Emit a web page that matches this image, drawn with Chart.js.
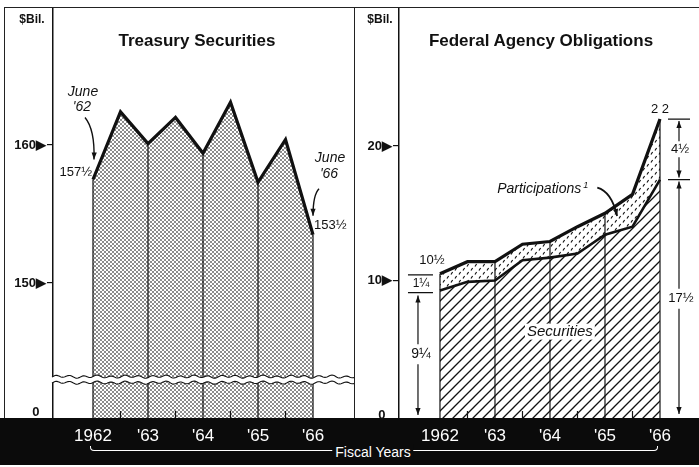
<!DOCTYPE html>
<html>
<head>
<meta charset="utf-8">
<script src="https://cdn.jsdelivr.net/npm/chart.js@4.4.0/dist/chart.umd.min.js"></script>
<style>
  body { margin: 0; background: #fff; font-family: 'Liberation Sans', Arial, sans-serif; }
  #page { position: relative; width: 699px; height: 467px; overflow: hidden; }
  #band { position: absolute; left: 0; top: 418px; width: 699px; height: 47px; background: #0b0b0b; }
  canvas { position: absolute; top: 7px; }
  #left { left: 4px; }
  #right { left: 354px; }
  .frame { position: absolute; background: #222; }
  .lbl { position: absolute; transform: translate(-50%, -50%); white-space: nowrap; color: #111; }
  .title { font-weight: bold; font-size: 17px; }
  .unit { font-weight: bold; font-size: 12px; }
  .bracket { position: absolute; left: 90px; top: 446px; width: 566px; height: 4px;
    border: 1.5px solid #fff; border-top: none; border-radius: 0 0 4px 4px; }
  .fy { color: #fff; font-size: 14px; background: #0b0b0b; padding: 0 3px; }
</style>
</head>
<body>
<div id="page">
  <div id="band"></div>
  <div class="bracket"></div>
  <div class="lbl fy" style="left:373px;top:452px">Fiscal Years</div>
  <canvas id="left" width="350" height="458"></canvas>
  <canvas id="right" width="345" height="458"></canvas>
  <div class="frame" style="left:4px;top:7px;width:695px;height:1px"></div>
  <div class="frame" style="left:4px;top:7px;width:1px;height:411px"></div>
  <div class="frame" style="left:354px;top:7px;width:1px;height:411px"></div>
  <div class="lbl unit" style="left:32px;top:19px">$Bil.</div>
  <div class="lbl unit" style="left:380px;top:19px">$Bil.</div>
  <div class="lbl title" style="left:197px;top:41px">Treasury Securities</div>
  <div class="lbl title" style="left:541px;top:41px">Federal Agency Obligations</div>
</div>
<script>
// half-year points, June '62 to June '66
const years = [1962, 1962.5, 1963, 1963.5, 1964, 1964.5, 1965, 1965.5, 1966];
const yearTicks = [1962, 1963, 1964, 1965, 1966];
const yearLabels = ['1962', "'63", "'64", "'65", "'66"];

const treasury = [157.5, 162.4, 160.1, 162.0, 159.4, 163.1, 157.3, 160.4, 153.5];
const agencyTotal = [10.5, 11.4, 11.4, 12.7, 12.9, 14.0, 15.0, 16.4, 22];
const agencySecurities = [9.25, 9.9, 10.0, 11.5, 11.7, 12.0, 13.4, 14.0, 17.5];

const treasuryTicks = [140.6, 150, 160];
const treasuryTickLabels = ['0\u2002', '150\u25B6', '160\u25B6'];
const agencyTicks = [0, 10, 20];
const agencyTickLabels = ['0\u2002', '10\u25B6', '20\u25B6'];

const FONT = "'Liberation Sans', Arial, sans-serif";
const INK = '#111';

function makePattern(ctx, w, h, draw) {
  const c = document.createElement('canvas');
  c.width = w; c.height = h;
  const g = c.getContext('2d');
  g.fillStyle = '#fff';
  g.fillRect(0, 0, w, h);
  draw(g);
  return ctx.createPattern(c, 'repeat');
}

function text(ctx, str, x, y, font, align) {
  ctx.font = font;
  ctx.textAlign = align || 'center';
  ctx.textBaseline = 'middle';
  ctx.fillText(str, x, y);
}

function arrow(ctx, x1, y1, x2, y2, cx, cy) {
  ctx.beginPath();
  ctx.moveTo(x1, y1);
  if (cx !== undefined) ctx.quadraticCurveTo(cx, cy, x2, y2);
  else ctx.lineTo(x2, y2);
  ctx.stroke();
  const fx = cx !== undefined ? cx : x1, fy = cy !== undefined ? cy : y1;
  const a = Math.atan2(y2 - fy, x2 - fx);
  ctx.beginPath();
  ctx.moveTo(x2, y2);
  ctx.lineTo(x2 - 7 * Math.cos(a) + 2.6 * Math.sin(a), y2 - 7 * Math.sin(a) - 2.6 * Math.cos(a));
  ctx.lineTo(x2 - 7 * Math.cos(a) - 2.6 * Math.sin(a), y2 - 7 * Math.sin(a) + 2.6 * Math.cos(a));
  ctx.closePath();
  ctx.fill();
}

// year dividers, half-year ticks and the axis break
const panelDecor = {
  id: 'panelDecor',
  afterDatasetsDraw(chart, args, opts) {
    const ctx = chart.ctx, area = chart.chartArea;
    const pts = chart.getDatasetMeta(opts.topIndex).data;
    ctx.save();
    ctx.strokeStyle = INK;
    ctx.lineWidth = 1.2;
    years.forEach((yr, i) => {
      const p = pts[i];
      ctx.beginPath();
      if (Number.isInteger(yr)) { ctx.moveTo(p.x, p.y); ctx.lineTo(p.x, area.bottom); }
      else { ctx.moveTo(p.x, area.bottom); ctx.lineTo(p.x, area.bottom - 7); }
      ctx.stroke();
    });
    if (opts.breakAt !== undefined) {
      const yc = chart.scales.y.getPixelForValue(opts.breakAt);
      const wave = (x, off) => yc + off + 1.1 * Math.sin(x / 2.2) + 0.5 * Math.sin(x / 5.3);
      ctx.beginPath();
      for (let x = area.left - 1; x <= area.right; x++) ctx.lineTo(x, wave(x, -3));
      for (let x = area.right; x >= area.left - 1; x--) ctx.lineTo(x, wave(x, 3));
      ctx.closePath();
      ctx.fillStyle = '#fff';
      ctx.fill();
      ctx.lineWidth = 1.1;
      [-3, 3].forEach(off => {
        ctx.beginPath();
        for (let x = area.left - 1; x <= area.right; x++) ctx.lineTo(x, wave(x, off));
        ctx.stroke();
      });
    }
    ctx.restore();
  }
};

const leftNotes = {
  id: 'leftNotes',
  afterDraw(chart) {
    const ctx = chart.ctx;
    const pts = chart.getDatasetMeta(0).data;
    const a = pts[0], b = pts[pts.length - 1];
    const ital = 'italic 14px ' + FONT, num = '13px ' + FONT;
    ctx.save();
    ctx.fillStyle = INK; ctx.strokeStyle = INK; ctx.lineWidth = 1.4;
    text(ctx, 'June', a.x - 10, a.y - 87, ital);
    text(ctx, "'62", a.x - 11, a.y - 72, ital);
    arrow(ctx, a.x - 8, a.y - 62, a.x + 1, a.y - 20, a.x + 2, a.y - 50);
    text(ctx, '157\u00BD', a.x - 1, a.y - 7, num, 'right');
    text(ctx, 'June', b.x + 17, b.y - 77, ital);
    text(ctx, "'66", b.x + 16, b.y - 61, ital);
    arrow(ctx, b.x + 6, b.y - 46, b.x, b.y - 19, b.x, b.y - 40);
    text(ctx, '153\u00BD', b.x + 1, b.y - 9, num, 'left');
    ctx.restore();
  }
};

const rightNotes = {
  id: 'rightNotes',
  afterDraw(chart) {
    const ctx = chart.ctx, area = chart.chartArea;
    const xs = chart.scales.x, ys = chart.scales.y;
    const sec = chart.getDatasetMeta(0).data, tot = chart.getDatasetMeta(1).data;
    const s0 = sec[0], t0 = tot[0], sN = sec[sec.length - 1], tN = tot[tot.length - 1];
    const num = '13px ' + FONT;
    ctx.save();
    ctx.fillStyle = INK; ctx.strokeStyle = INK; ctx.lineWidth = 1.2;

    // right-hand dimensions
    text(ctx, '2 2', tN.x, tN.y - 10, num);
    ctx.beginPath();
    ctx.moveTo(tN.x + 8, tN.y); ctx.lineTo(tN.x + 30, tN.y);
    ctx.moveTo(tN.x + 8, sN.y); ctx.lineTo(tN.x + 30, sN.y);
    ctx.stroke();
    const ax = tN.x + 19;
    const m1 = (tN.y + sN.y) / 2;
    text(ctx, '4\u00BD', ax + 1, m1, num);
    arrow(ctx, ax, m1 - 8, ax, tN.y + 2);
    arrow(ctx, ax, m1 + 8, ax, sN.y - 2);
    const m2 = (sN.y + area.bottom) / 2;
    text(ctx, '17\u00BD', ax + 2, m2, num);
    arrow(ctx, ax, m2 - 10, ax, sN.y + 2);
    arrow(ctx, ax, m2 + 10, ax, area.bottom - 4);

    // left-hand dimensions
    text(ctx, '10\u00BD', t0.x - 8, t0.y - 13, num);
    ctx.beginPath();
    ctx.moveTo(t0.x - 32, t0.y + 1); ctx.lineTo(t0.x - 7, t0.y + 1);
    ctx.moveTo(t0.x - 32, s0.y + 2); ctx.lineTo(t0.x - 7, s0.y + 2);
    ctx.stroke();
    text(ctx, '1\u00BC', t0.x - 19, (t0.y + s0.y) / 2 + 1.5, '12px ' + FONT);
    const m3 = (s0.y + area.bottom) / 2;
    text(ctx, '9\u00BC', t0.x - 19, m3, '14px ' + FONT);
    arrow(ctx, t0.x - 22, m3 - 10, t0.x - 22, s0.y + 5);
    arrow(ctx, t0.x - 22, m3 + 10, t0.x - 22, area.bottom - 3);

    // series labels
    ctx.font = 'italic 14px ' + FONT;
    ctx.textAlign = 'left'; ctx.textBaseline = 'middle';
    const px = xs.getPixelForValue(1963.04), py = ys.getPixelForValue(16.8);
    ctx.fillText('Participations', px, py);
    const w = ctx.measureText('Participations').width;
    ctx.font = 'italic 9px ' + FONT;
    ctx.fillText('1', px + w + 2, py - 4);
    ctx.lineWidth = 1.8;
    arrow(ctx, xs.getPixelForValue(1964.86), ys.getPixelForValue(16.9),
      xs.getPixelForValue(1965.22), ys.getPixelForValue(14.8),
      xs.getPixelForValue(1965.12), ys.getPixelForValue(16.6));

    ctx.font = 'italic 15px ' + FONT;
    const sx = xs.getPixelForValue(1964.18), sy = ys.getPixelForValue(6.2);
    const sw = ctx.measureText('Securities').width;
    ctx.fillStyle = '#fff';
    ctx.fillRect(sx - sw / 2 - 2, sy - 8, sw + 4, 16);
    ctx.fillStyle = INK;
    text(ctx, 'Securities', sx, sy, 'italic 15px ' + FONT);
    ctx.restore();
  }
};

function xScale(min, max) {
  return {
    type: 'linear', min: min, max: max,
    afterBuildTicks: s => { s.ticks = yearTicks.map(v => ({ value: v })); },
    afterFit: s => { s.height = 47; s.paddingLeft = 0; s.paddingRight = 0; },
    grid: { display: false },
    border: { display: false },
    ticks: {
      color: '#fff', font: { family: FONT, size: 17 }, padding: 0,
      autoSkip: false, maxRotation: 0,
      callback: v => yearLabels[yearTicks.indexOf(v)]
    }
  };
}

function yScale(min, max, tickVals, tickLabels, width) {
  return {
    min: min, max: max,
    afterBuildTicks: s => { s.ticks = tickVals.map(v => ({ value: v })); },
    afterFit: s => { s.width = width; s.paddingTop = 0; s.paddingBottom = 0; },
    grid: {
      drawOnChartArea: false, tickLength: 6, lineWidth: 1.2,
      color: c => (c.tick && c.tick.value === tickVals[0]) ? 'rgba(0,0,0,0)' : INK
    },
    border: { color: INK, width: 1.5 },
    ticks: {
      color: INK, font: { family: FONT, size: 13, weight: 'bold' }, padding: 1,
      autoSkip: false,
      callback: v => tickLabels[tickVals.indexOf(v)]
    }
  };
}

const baseOptions = {
  responsive: false, animation: false, devicePixelRatio: 1,
  layout: { padding: 0 },
  elements: { line: { tension: 0, borderJoinStyle: 'miter' }, point: { radius: 0 } }
};

// Treasury Securities
const leftCtx = document.getElementById('left').getContext('2d');
const stipple = makePattern(leftCtx, 4, 4, g => {
  g.fillStyle = '#8c8c8c';
  g.fillRect(0, 0, 2, 2);
  g.fillRect(2, 2, 2, 2);
});
new Chart(leftCtx, {
  type: 'line',
  data: {
    datasets: [{
      data: years.map((x, i) => ({ x: x, y: treasury[i] })),
      borderColor: INK, borderWidth: 3.2,
      backgroundColor: stipple, fill: 'start'
    }]
  },
  options: Object.assign({}, baseOptions, {
    plugins: { legend: { display: false }, tooltip: { enabled: false },
      panelDecor: { topIndex: 0, breakAt: 143.0 } },
    scales: {
      x: xScale(1961.273, 1966.745),
      y: yScale(140.22, 170, treasuryTicks, treasuryTickLabels, 49)
    }
  }),
  plugins: [panelDecor, leftNotes]
});

// Federal Agency Obligations
const rightCtx = document.getElementById('right').getContext('2d');
const hatch = makePattern(rightCtx, 10, 10, g => {
  g.strokeStyle = '#111'; g.lineWidth = 1.3;
  g.beginPath();
  g.moveTo(0, 10); g.lineTo(10, 0);
  g.moveTo(-1, 1); g.lineTo(1, -1);
  g.moveTo(9, 11); g.lineTo(11, 9);
  g.stroke();
});
const dashes = makePattern(rightCtx, 8, 8, g => {
  g.strokeStyle = '#111'; g.lineWidth = 1.2;
  g.beginPath();
  g.moveTo(1, 3.5); g.lineTo(2.6, 1);
  g.moveTo(5, 7.5); g.lineTo(6.6, 5);
  g.stroke();
});
new Chart(rightCtx, {
  type: 'line',
  data: {
    datasets: [
      {
        label: 'Securities',
        data: years.map((x, i) => ({ x: x, y: agencySecurities[i] })),
        borderColor: INK, borderWidth: 2.6,
        backgroundColor: hatch, fill: 'start'
      },
      {
        label: 'Participations',
        data: years.map((x, i) => ({ x: x, y: agencyTotal[i] })),
        borderColor: INK, borderWidth: 3.2,
        backgroundColor: dashes, fill: '-1'
      }
    ]
  },
  options: Object.assign({}, baseOptions, {
    plugins: { legend: { display: false }, tooltip: { enabled: false },
      panelDecor: { topIndex: 1 } },
    scales: {
      x: xScale(1961.255, 1966.709),
      y: yScale(-0.22, 30.33, agencyTicks, agencyTickLabels, 45)
    }
  }),
  plugins: [panelDecor, rightNotes]
});
</script>
</body>
</html>
